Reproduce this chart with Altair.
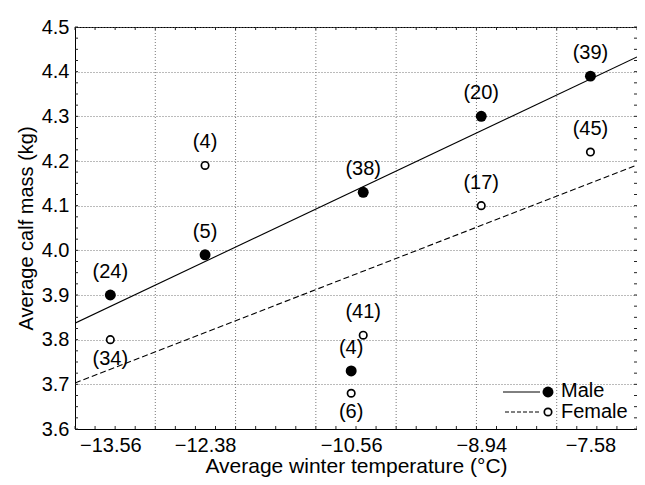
import altair as alt
import pandas as pd

# ---- data ----
x_tick_values = [-13.56, -12.38, -10.56, -8.94, -7.58]
y_tick_values = [3.6, 3.7, 3.8, 3.9, 4.0, 4.1, 4.2, 4.3, 4.4, 4.5]
x_grid_values = [-13, -12, -11, -10, -9, -8]

male_temp = [-13.56, -12.38, -10.41, -10.56, -8.94, -7.58]
male_mass = [3.90, 3.99, 4.13, 3.73, 4.30, 4.39]
male_n = ["(24)", "(5)", "(38)", "(4)", "(20)", "(39)"]
male_place = ["above", "above", "above", "above", "above", "above"]

female_temp = [-13.56, -12.38, -10.41, -10.56, -8.94, -7.58]
female_mass = [3.80, 4.19, 3.81, 3.68, 4.10, 4.22]
female_n = ["(34)", "(4)", "(41)", "(6)", "(17)", "(45)"]
female_place = ["below", "above", "above", "below", "above", "above"]

fit_temp = [-14.0, -7.0]
male_fit = [3.837, 4.433]
female_fit = [3.703, 4.191]

# minor tick positions (decoration along the frame)
minor_x = [-14 + 0.25 * i for i in range(29)]
minor_y = [round(3.6 + 0.025 * i, 3) for i in range(37)]

W, H = 562, 402
FONT = "Liberation Sans"
FS = 20

pts = pd.DataFrame({
    "temp": male_temp + female_temp,
    "mass": male_mass + female_mass,
    "n": male_n + female_n,
    "place": male_place + female_place,
    "sex": ["Male"] * 6 + ["Female"] * 6,
})
fits = pd.DataFrame({
    "temp": fit_temp * 2,
    "mass": male_fit + female_fit,
    "sex": ["Male"] * 2 + ["Female"] * 2,
})

xs = alt.Scale(domain=[-14, -7], nice=False, zero=False)
ys = alt.Scale(domain=[3.6, 4.5], nice=False, zero=False)

X = alt.X("temp:Q", scale=xs,
          axis=alt.Axis(values=x_tick_values, format=".2f", grid=False, ticks=False,
                        title="Average winter temperature (°C)", labelPadding=6,
                        titlePadding=0, titleFontSize=21))
Y = alt.Y("mass:Q", scale=ys,
          axis=alt.Axis(values=y_tick_values, format=".1f", grid=True, ticks=False,
                        gridColor="#777", gridDash=[1, 2], gridWidth=1,
                        title="Average calf mass (kg)", labelPadding=6,
                        titlePadding=5, titleFontSize=20))

base = alt.Chart(pts).encode(x=X, y=Y)

# vertical grid lines at whole degrees
vgrid = alt.Chart(pd.DataFrame({"g": x_grid_values})).mark_rule(
    color="#777", strokeDash=[1, 2], strokeWidth=1
).encode(x=alt.X("g:Q", scale=xs))

# minor ticks inside the frame
mx = pd.DataFrame({"v": minor_x})
my = pd.DataFrame({"v": minor_y})
tick_style = dict(color="#222", strokeWidth=1)
t_top = alt.Chart(mx).mark_rule(**tick_style).encode(
    x=alt.X("v:Q", scale=xs), y=alt.value(0), y2=alt.value(3))
t_bot = alt.Chart(mx).mark_rule(**tick_style).encode(
    x=alt.X("v:Q", scale=xs), y=alt.value(H), y2=alt.value(H - 3))
t_left = alt.Chart(my).mark_rule(**tick_style).encode(
    y=alt.Y("v:Q", scale=ys), x=alt.value(0), x2=alt.value(3))
t_right = alt.Chart(my).mark_rule(**tick_style).encode(
    y=alt.Y("v:Q", scale=ys), x=alt.value(W), x2=alt.value(W - 3))

male_line = alt.Chart(fits).transform_filter("datum.sex == 'Male'").mark_line(
    color="black", strokeWidth=1.1, clip=True).encode(x=alt.X("temp:Q", scale=xs), y=alt.Y("mass:Q", scale=ys))
female_line = alt.Chart(fits).transform_filter("datum.sex == 'Female'").mark_line(
    color="black", strokeWidth=1.1, strokeDash=[6, 3], clip=True).encode(
    x=alt.X("temp:Q", scale=xs), y=alt.Y("mass:Q", scale=ys))

male_pts = base.transform_filter("datum.sex == 'Male'").mark_point(
    shape="circle", filled=True, color="black", size=120, opacity=1)
female_pts = base.transform_filter("datum.sex == 'Female'").mark_point(
    shape="circle", filled=False, color="black", fill="white", fillOpacity=1,
    strokeWidth=1.7, size=55, opacity=1)

lab_above = base.transform_filter("datum.place == 'above'").mark_text(
    font=FONT, fontSize=FS, dy=-23, baseline="middle", color="black").encode(text="n:N")
lab_below = base.transform_filter("datum.place == 'below'").mark_text(
    font=FONT, fontSize=FS, dy=19, baseline="middle", color="black").encode(text="n:N")

# legend (drawn in lower right of plot)
LX = W - 134
leg = pd.DataFrame({"k": [0]})
lg_m_line = alt.Chart(leg).mark_rule(color="black", strokeWidth=1).encode(
    x=alt.value(LX), x2=alt.value(LX + 37), y=alt.value(365))
lg_f_line = alt.Chart(leg).mark_rule(color="black", strokeWidth=1, strokeDash=[4, 2]).encode(
    x=alt.value(LX + 2), x2=alt.value(LX + 37), y=alt.value(385))
lg_m_pt = alt.Chart(leg).mark_point(shape="circle", filled=True, color="black", size=120, opacity=1).encode(
    x=alt.value(LX + 45), y=alt.value(365))
lg_f_pt = alt.Chart(leg).mark_point(shape="circle", filled=False, color="black", fill="white",
                                    fillOpacity=1, strokeWidth=1.7, size=55, opacity=1).encode(
    x=alt.value(LX + 45), y=alt.value(385))
lg_m_txt = alt.Chart(leg).mark_text(font=FONT, fontSize=FS, align="left", baseline="middle",
                                    color="black", text="Male").encode(x=alt.value(LX + 58), y=alt.value(364))
lg_f_txt = alt.Chart(leg).mark_text(font=FONT, fontSize=FS, align="left", baseline="middle",
                                    color="black", text="Female").encode(x=alt.value(LX + 58), y=alt.value(385))

chart = alt.layer(
    vgrid, base.mark_point(opacity=0),
    t_top, t_bot, t_left, t_right,
    male_line, female_line,
    male_pts, female_pts, lab_above, lab_below,
    lg_m_line, lg_f_line, lg_m_pt, lg_f_pt, lg_m_txt, lg_f_txt,
).properties(
    width=W, height=H,
    autosize=alt.AutoSizeParams(type="none"),
    padding={"left": 67, "top": 19, "right": 0, "bottom": 48},
    background="white",
).configure_view(
    stroke="black", strokeWidth=1
).configure_axis(
    labelFont=FONT, titleFont=FONT, labelFontSize=FS,
    labelColor="black", titleColor="black", titleFontWeight="normal",
    domainColor="black", domainWidth=1,
)

chart.save("out.html", embed_options={"renderer": "svg", "actions": False})
